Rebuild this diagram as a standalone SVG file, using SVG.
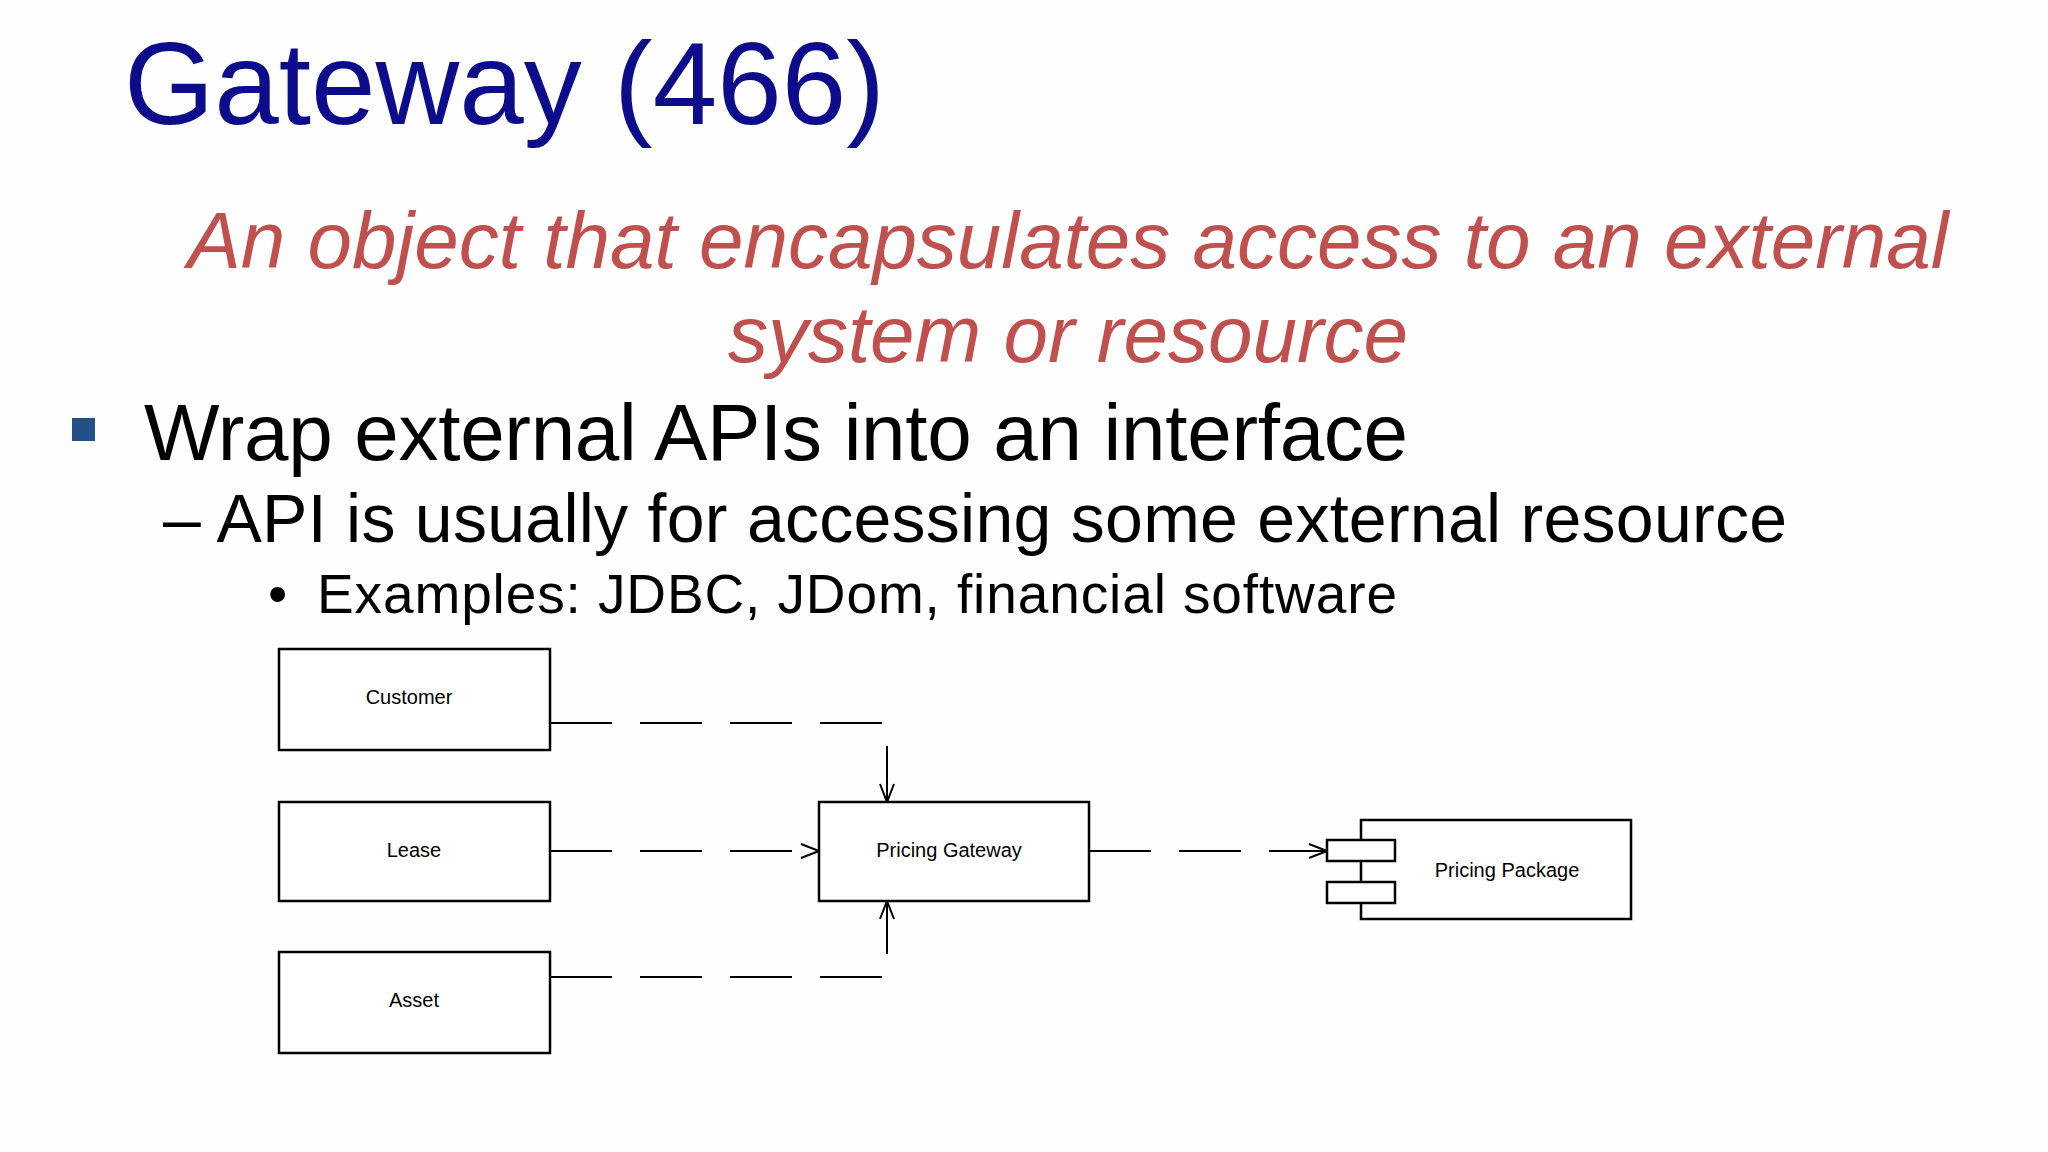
<svg xmlns="http://www.w3.org/2000/svg" width="2048" height="1152" viewBox="0 0 2048 1152">
<defs>
<style>
.box{fill:#fff;stroke:#000;stroke-width:2.5}
.lbl{font-family:"Liberation Sans",Arial,sans-serif;font-size:20px;text-anchor:middle;fill:#000}
.dep{fill:none;stroke:#000;stroke-width:2;stroke-dasharray:62 28}
.body{font-family:"Liberation Sans",Arial,sans-serif;fill:#000}
</style>
<marker id="open" viewBox="0 0 20 20" refX="19" refY="10" markerWidth="20" markerHeight="20" markerUnits="userSpaceOnUse" orient="auto">
<path d="M1,3 L19,10 L1,17" fill="none" stroke="#000" stroke-width="2"/>
</marker>
</defs>
<rect width="2048" height="1152" fill="#fefefe"/>
<text x="124" y="124" font-family="Liberation Sans,Arial,sans-serif" font-size="116" fill="#0d0d8c">Gateway (466)</text>
<text x="1068" y="268" text-anchor="middle" font-family="Liberation Sans,Arial,sans-serif" font-style="italic" font-size="80" fill="#c0504d">An object that encapsulates access to an external</text>
<text x="1068" y="362" text-anchor="middle" font-family="Liberation Sans,Arial,sans-serif" font-style="italic" font-size="80" fill="#c0504d">system or resource</text>
<rect x="72" y="418" width="23" height="23" fill="#24508a"/>
<text class="body" x="144" y="460" font-size="80" textLength="1264">Wrap external APIs into an interface</text>
<text class="body" x="163" y="542" font-size="68" textLength="1624">– API is usually for accessing some external resource</text>
<text class="body" x="268" y="613" font-size="55">•</text>
<text class="body" x="317" y="613" font-size="55" textLength="1080">Examples: JDBC, JDom, financial software</text>
<g id="connectors">
<path class="dep" d="M550,723 H887 V802" marker-end="url(#open)"/>
<path class="dep" d="M550,851 H819" marker-end="url(#open)"/>
<path class="dep" d="M550,977 H887 V901" marker-end="url(#open)"/>
<path class="dep" d="M1089,851 H1327" marker-end="url(#open)"/>
</g>
<g id="customer"><rect class="box" x="279" y="649" width="271" height="101"/><text class="lbl" x="409" y="704">Customer</text></g>
<g id="lease"><rect class="box" x="279" y="802" width="271" height="99"/><text class="lbl" x="414" y="857">Lease</text></g>
<g id="asset"><rect class="box" x="279" y="952" width="271" height="101"/><text class="lbl" x="414" y="1007">Asset</text></g>
<g id="gateway"><rect class="box" x="819" y="802" width="270" height="99"/><text class="lbl" x="949" y="857">Pricing Gateway</text></g>
<g id="package"><rect class="box" x="1361" y="820" width="270" height="99"/><rect class="box" x="1327" y="840" width="68" height="21"/><rect class="box" x="1327" y="882" width="68" height="21"/><text class="lbl" x="1507" y="877">Pricing Package</text></g>
</svg>
